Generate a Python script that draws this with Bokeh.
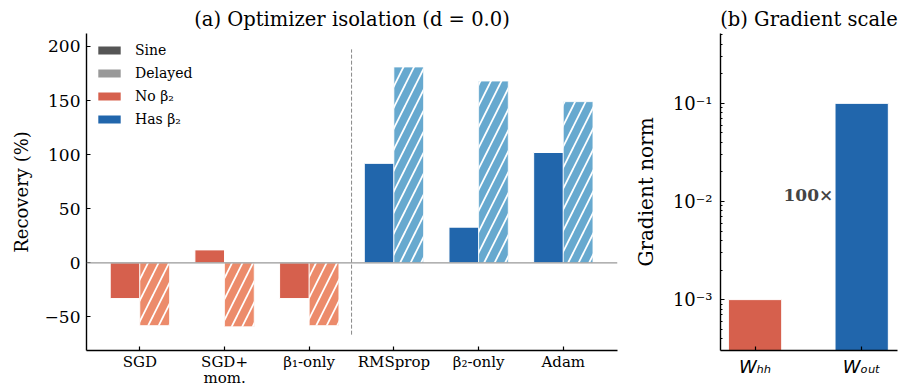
import numpy as np
from bokeh.plotting import figure
from bokeh.models import (ColumnDataSource, Span, Legend, LegendItem, FixedTicker,
                          Range1d, Label)
from bokeh.layouts import row
from bokeh.embed import file_html
from bokeh.resources import INLINE

# ---------------- data ----------------
categories = ["SGD", "SGD+\nmom.", "β₁-only", "RMSprop", "β₂-only", "Adam"]
sine_recovery = [-33, 12, -33, 92, 33, 102]
delayed_recovery = [-58, -59, -58, 181, 168, 149]
has_beta2 = [False, False, False, True, True, True]

grad_params = ["Wₕₕ", "Wₒᵤₜ"]
grad_norms = [1e-3, 1e-1]
grad_ratio_label = "100×"

# ---------------- styles ----------------
SERIF = "DejaVu Serif"
RED_SINE, RED_DELAY = "#d6604d", "#ec8b6b"
BLUE_SINE, BLUE_DELAY = "#2166ac", "#67a9cf"
W = 0.35


def style_axes(p, xfs, yfs):
    p.grid.visible = False
    p.outline_line_color = None
    for ax in (p.xaxis[0], p.yaxis[0]):
        ax.axis_line_color = "black"
        ax.axis_line_width = 1.4
        ax.major_tick_in = 4
        ax.major_tick_out = 0
        ax.major_tick_line_width = 1.2
        ax.minor_tick_in = 2
        ax.minor_tick_out = 0
        ax.major_label_text_font = SERIF
        ax.major_label_text_color = "black"
        ax.axis_label_text_font = SERIF
        ax.axis_label_text_font_style = "normal"
        ax.axis_label_text_color = "black"
    p.xaxis.major_label_text_font_size = xfs
    p.yaxis.major_label_text_font_size = yfs
    p.title.text_font = SERIF
    p.title.text_font_style = "normal"
    p.title.text_font_size = "19.5px"
    p.title.align = "center"
    p.title.text_color = "black"
    p.title.standoff = 5


# ---------------- panel (a) ----------------
idx = np.arange(len(categories))
ylo, yhi = -81, 212
p1 = figure(width=630, height=390, x_range=Range1d(-0.63, 5.64), y_range=Range1d(ylo, yhi),
            output_backend="svg", toolbar_location=None,
            min_border_left=86, min_border_right=13, min_border_top=33, min_border_bottom=38,
            title="(a) Optimizer isolation (d = 0.0)")
style_axes(p1, "15px", "17px")
p1.xaxis.ticker = FixedTicker(ticks=list(idx.astype(float)))
p1.xaxis.major_label_overrides = {int(i): c for i, c in zip(idx, categories)}
p1.xaxis.major_label_standoff = 2
p1.xaxis.major_label_text_line_height = 0.92
p1.xaxis.minor_tick_in = 0
p1.yaxis.ticker = FixedTicker(ticks=[-50, 0, 50, 100, 150, 200])
p1.yaxis.major_label_overrides = {-50: "−50"}
p1.yaxis.minor_tick_in = 0
p1.yaxis.axis_label = "Recovery (%)"
p1.yaxis.axis_label_text_font_size = "18px"
p1.yaxis.major_label_standoff = 6
p1.yaxis.axis_label_standoff = 10

src = ColumnDataSource(dict(
    xs=idx - W / 2, xd=idx + W / 2,
    sine=sine_recovery, delayed=delayed_recovery,
    cs=[BLUE_SINE if h else RED_SINE for h in has_beta2],
    cd=[BLUE_DELAY if h else RED_DELAY for h in has_beta2],
))
p1.vbar(x="xs", top="sine", bottom=0, width=W, source=src,
        fill_color="cs", line_color="white", line_width=1)
p1.vbar(x="xd", top="delayed", bottom=0, width=W, source=src,
        fill_color="cd", line_color="white", line_width=1, line_alpha=0.7,
        hatch_pattern="/", hatch_color="white", hatch_weight=1.7, hatch_scale=21)

p1.add_layout(Span(location=0, dimension="width", line_color="#999999", line_width=1.3))
sep_x = (idx[2] + idx[3]) / 2
p1.segment(x0=[sep_x], x1=[sep_x],
           y0=[ylo + 0.05 * (yhi - ylo)], y1=[ylo + 0.95 * (yhi - ylo)],
           line_color="#888888", line_width=1, line_dash="4 2")

# legend proxies (NaN rows: nothing is drawn in the plot, only in the legend)
leg_specs = [("Sine", "#555555"), ("Delayed", "#999999"),
             ("No β₂", RED_SINE), ("Has β₂", BLUE_SINE)]
items = []
for lab, col in leg_specs:
    r = p1.vbar(x=[np.nan], top=[np.nan], width=W, fill_color=col, line_color=None)
    items.append(LegendItem(label=lab, renderers=[r]))
legend = Legend(items=items, location=(9, 223), padding=8,
                glyph_width=28, glyph_height=10, label_height=13, spacing=7,
                label_standoff=12, border_line_color=None, background_fill_alpha=0,
                label_text_font=SERIF, label_text_font_size="14px",
                label_text_color="black")
p1.add_layout(legend)

# ---------------- panel (b) ----------------
gxlo, gxhi = -0.324, 1.336
gylo, gyhi = 3.03e-4, 0.515
p2 = figure(width=269, height=390, y_axis_type="log",
            x_range=Range1d(gxlo, gxhi), y_range=Range1d(gylo, gyhi),
            output_backend="svg", toolbar_location=None,
            min_border_left=89, min_border_right=2, min_border_top=33, min_border_bottom=38,
            title="(b) Gradient scale")
style_axes(p2, "18px", "18px")
gidx = np.arange(len(grad_params))
p2.xaxis.ticker = FixedTicker(ticks=list(gidx.astype(float)))
p2.xaxis.major_label_overrides = {int(i): s for i, s in zip(gidx, grad_params)}
p2.xaxis.major_label_text_font = "DejaVu Sans"
p2.xaxis.major_label_text_font_style = "italic"
p2.xaxis.major_label_standoff = 5
p2.xaxis.minor_tick_in = 0

majors = [1e-3, 1e-2, 1e-1]
minors = [m * 10.0 ** k for k in range(-4, 0) for m in range(2, 10)
          if gylo <= m * 10.0 ** k <= gyhi]
p2.yaxis.ticker = FixedTicker(ticks=majors, minor_ticks=minors)
p2.yaxis.major_label_overrides = {1e-3: "10⁻³", 1e-2: "10⁻²", 1e-1: "10⁻¹"}
p2.yaxis.axis_label = "Gradient norm"
p2.yaxis.axis_label_text_font_size = "20px"
p2.yaxis.major_label_standoff = 8
p2.yaxis.axis_label_standoff = 12

gsrc = ColumnDataSource(dict(x=gidx, top=grad_norms, col=[RED_SINE, BLUE_SINE]))
p2.vbar(x="x", top="top", bottom=gylo, width=0.5, source=gsrc,
        fill_color="col", line_color="white", line_width=1)
p2.add_layout(Label(x=float(gidx.mean()), y=float(np.sqrt(grad_norms[0] * grad_norms[1])),
                    text=grad_ratio_label, text_font=SERIF, text_font_style="bold",
                    text_font_size="17px", text_color="#444444",
                    text_align="center", text_baseline="middle", y_offset=6))

layout = row(p1, p2)
open("out.html", "w").write(file_html(layout, INLINE))
